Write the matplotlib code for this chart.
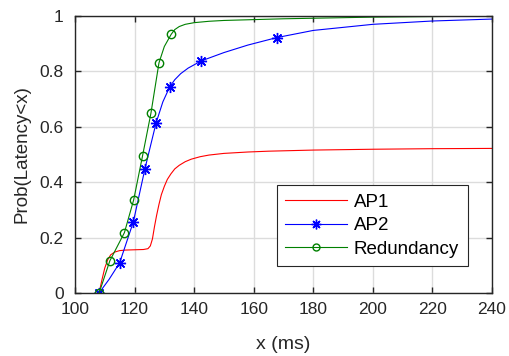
import matplotlib
matplotlib.use("Agg")
import matplotlib.pyplot as plt
from matplotlib.lines import Line2D

plt.rcParams['font.family'] = ['Liberation Sans', 'DejaVu Sans']

# AP1 (no markers)
ap1_x = [108.1, 109, 110, 111, 112, 113.4, 115, 117, 120, 123, 124.5, 125.3, 126, 126.7, 127.4, 128.2, 129, 130, 131, 132.2, 133.5, 135, 137, 139, 142, 145, 150, 158, 165, 180, 200, 220, 240]
ap1_y = [0, 0.045, 0.09, 0.12, 0.138, 0.148, 0.153, 0.155, 0.156, 0.157, 0.16, 0.17, 0.195, 0.24, 0.28, 0.32, 0.355, 0.385, 0.41, 0.43, 0.448, 0.461, 0.474, 0.483, 0.492, 0.498, 0.504, 0.509, 0.512, 0.516, 0.519, 0.521, 0.522]

# AP2 curve
ap2_x = [108.1, 111.5, 115.0, 119.6, 123.5, 127.2, 129.5, 131.8, 133.5, 135.5, 138, 142.4, 150, 158, 167.7, 180, 200, 220, 240]
ap2_y = [0, 0.05, 0.109, 0.257, 0.449, 0.613, 0.69, 0.744, 0.77, 0.792, 0.812, 0.838, 0.868, 0.895, 0.922, 0.948, 0.970, 0.982, 0.989]
ap2_marks = [0, 2, 3, 4, 5, 7, 11, 14]

# Redundancy curve
red_x = [108.1, 111.7, 116.6, 119.7, 122.7, 125.5, 128.2, 130, 132.3, 133.5, 135, 137, 140, 145, 150, 170, 200, 240]
red_y = [0, 0.116, 0.218, 0.336, 0.496, 0.649, 0.831, 0.89, 0.934, 0.951, 0.962, 0.970, 0.976, 0.981, 0.984, 0.990, 0.996, 1.0]
red_marks = [0, 1, 2, 3, 4, 5, 6, 8]

star = (8, 2, 0)

fig = plt.figure(figsize=(5.09, 3.56), dpi=100)
ax = fig.add_axes([0.1473, 0.177, 0.8193, 0.778])

ax.plot(ap1_x, ap1_y, color='#ff0000', lw=0.8, label='AP1')
ax.plot(ap2_x, ap2_y, color='#0000ff', lw=0.8, marker=star, markevery=ap2_marks,
        markersize=8, markeredgewidth=1.0, label='AP2')
ax.plot(red_x, red_y, color='#008000', lw=0.8, marker='o', markevery=red_marks,
        markersize=6, markerfacecolor='none', markeredgewidth=1.0, label='Redundancy')

ax.set_xlim(100, 240)
ax.set_ylim(0, 1)
ax.set_xticks(range(100, 241, 20))
ax.set_yticks([0, 0.2, 0.4, 0.6, 0.8, 1.0])
ax.set_yticklabels(['0', '0.2', '0.4', '0.6', '0.8', '1'])
ax.grid(True, color='#dcdcdc', lw=1.0)
ax.set_axisbelow(True)
ax.tick_params(direction='in', top=True, right=True, length=4, labelsize=12.5,
               colors='#262626', width=1.0)
ax.tick_params(axis='x', pad=6.5)
ax.tick_params(axis='y', pad=8)
for s in ax.spines.values():
    s.set_color('#262626')
    s.set_linewidth(1.0)
ax.set_xlabel('x (ms)', fontsize=14, color='#262626', labelpad=14)
ax.set_ylabel('Prob(Latency<x)', fontsize=13.5, color='#262626', labelpad=7)

handles = [
    Line2D([], [], color='#ff0000', lw=0.8),
    Line2D([], [], color='#0000ff', lw=0.8, marker=star, markersize=7, markeredgewidth=1.0),
    Line2D([], [], color='#008000', lw=0.8, marker='o', markersize=5, markerfacecolor='none'),
]
leg = ax.legend(handles, ['AP1', 'AP2', 'Redundancy'], loc='upper left',
                bbox_to_anchor=(0.4844, 0.3899), borderaxespad=0,
                fontsize=13.5, fancybox=False, framealpha=1, edgecolor='#262626',
                handlelength=3.3, handletextpad=0.35, borderpad=0.45, labelspacing=0.35)
leg.get_frame().set_linewidth(0.8)

fig.savefig('out.png', dpi=100)
